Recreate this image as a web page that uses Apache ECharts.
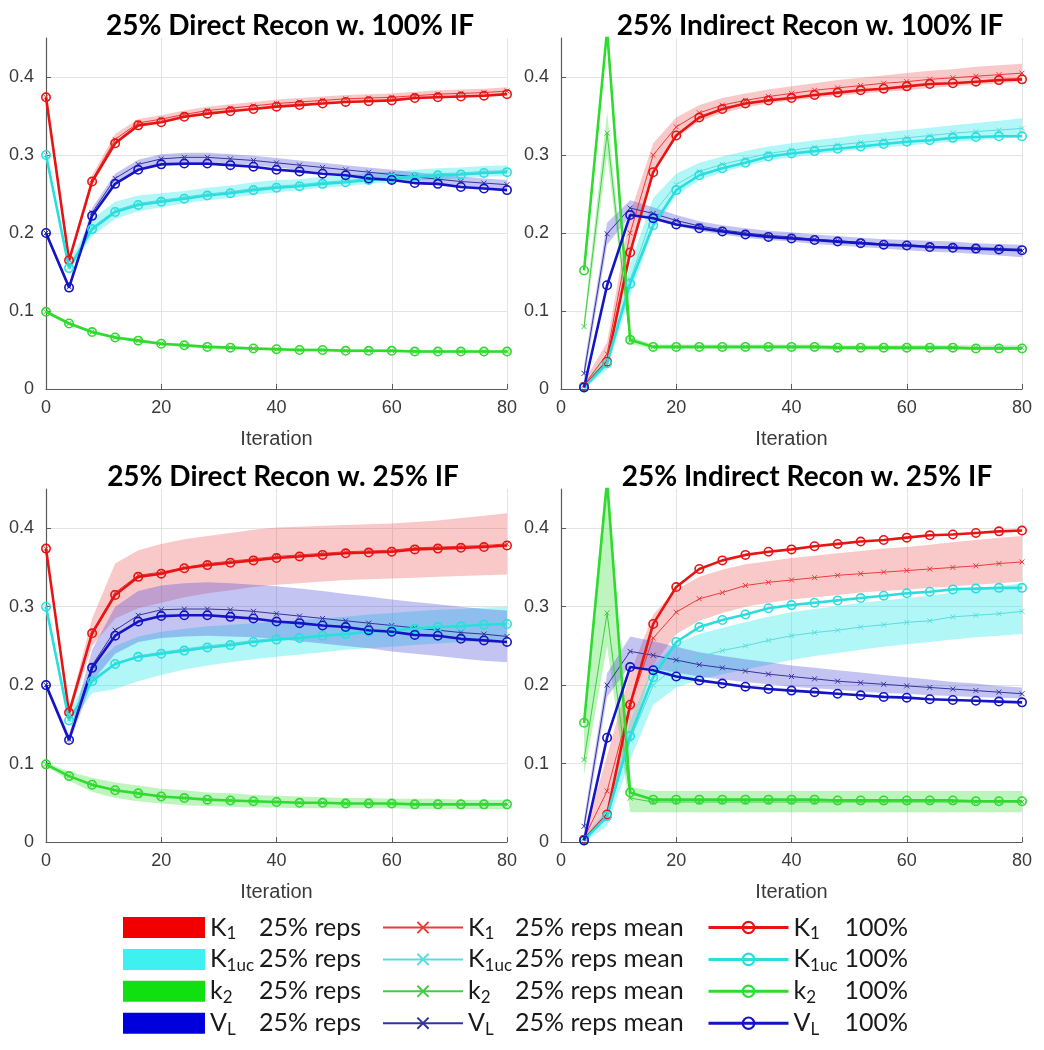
<!DOCTYPE html>
<html><head><meta charset="utf-8">
<script src="https://cdn.jsdelivr.net/npm/echarts@6/dist/echarts.min.js"></script>
<style>html,body{margin:0;padding:0;background:#fff}#c{width:1044px;height:1050px}</style>
</head><body><div id="c"></div>
<script>
// ---------- data ----------
const ITER_D = [0,4,8,12,16,20,24,28,32,36,40,44,48,52,56,60,64,68,72,76,80];
const ITER_I = [4,8,12,16,20,24,28,32,36,40,44,48,52,56,60,64,68,72,76,80];
const Y_TICKS = [0,0.1,0.2,0.3,0.4];
const TITLES = ['25% Direct Recon w. 100% IF','25% Indirect Recon w. 100% IF','25% Direct Recon w. 25% IF','25% Indirect Recon w. 25% IF'];
const PARAMS = ['K1','K1uc','k2','VL'];

// 100% reference curves
const D100_K1   = [0.374,0.165,0.266,0.315,0.338,0.342,0.349,0.353,0.356,0.359,0.362,0.364,0.366,0.368,0.369,0.370,0.373,0.374,0.375,0.376,0.378];
const D100_K1uc = [0.300,0.155,0.205,0.227,0.236,0.240,0.244,0.248,0.251,0.255,0.258,0.260,0.263,0.265,0.268,0.270,0.272,0.274,0.275,0.277,0.278];
const D100_k2   = [0.099,0.084,0.073,0.066,0.062,0.058,0.056,0.054,0.053,0.052,0.051,0.050,0.050,0.049,0.049,0.049,0.048,0.048,0.048,0.048,0.048];
const D100_VL   = [0.200,0.130,0.222,0.263,0.281,0.288,0.289,0.289,0.287,0.285,0.281,0.279,0.276,0.274,0.270,0.268,0.264,0.263,0.259,0.257,0.255];
const I100_K1   = [0.003,0.035,0.175,0.278,0.325,0.348,0.359,0.366,0.370,0.373,0.377,0.380,0.383,0.385,0.388,0.391,0.392,0.394,0.396,0.397];
const I100_K1uc = [0.002,0.033,0.135,0.210,0.255,0.274,0.283,0.290,0.298,0.302,0.305,0.308,0.311,0.314,0.317,0.319,0.322,0.323,0.324,0.324];
const I100_k2   = [0.152,0.460,0.063,0.054,0.054,0.054,0.054,0.054,0.054,0.054,0.054,0.053,0.053,0.053,0.053,0.053,0.053,0.052,0.052,0.052];
const I100_VL   = [0.002,0.133,0.223,0.219,0.211,0.206,0.202,0.198,0.195,0.193,0.191,0.189,0.187,0.185,0.184,0.182,0.181,0.180,0.179,0.178];

// Panel A: Direct, 100% IF
const A_K1_mean = [0.374,0.165,0.268,0.320,0.341,0.346,0.352,0.357,0.360,0.363,0.366,0.368,0.370,0.372,0.373,0.374,0.376,0.378,0.379,0.380,0.382];
const A_K1_lo   = [0.372,0.161,0.262,0.313,0.336,0.341,0.347,0.352,0.355,0.358,0.361,0.363,0.365,0.367,0.368,0.369,0.371,0.373,0.374,0.375,0.377];
const A_K1_hi   = [0.376,0.169,0.274,0.327,0.346,0.351,0.357,0.362,0.365,0.368,0.371,0.373,0.375,0.377,0.378,0.379,0.381,0.383,0.384,0.385,0.387];
const A_K1uc_mean = [0.300,0.156,0.207,0.229,0.238,0.242,0.246,0.250,0.253,0.257,0.260,0.262,0.265,0.267,0.270,0.272,0.274,0.276,0.277,0.279,0.280];
const A_K1uc_lo   = [0.296,0.150,0.196,0.218,0.228,0.233,0.238,0.242,0.245,0.249,0.252,0.255,0.258,0.260,0.263,0.265,0.267,0.269,0.270,0.272,0.273];
const A_K1uc_hi   = [0.304,0.162,0.218,0.240,0.248,0.251,0.254,0.258,0.261,0.265,0.268,0.269,0.272,0.274,0.277,0.279,0.281,0.283,0.284,0.286,0.287];
const A_k2_mean = [0.099,0.084,0.073,0.066,0.062,0.058,0.056,0.054,0.053,0.052,0.051,0.050,0.050,0.049,0.049,0.049,0.048,0.048,0.048,0.048,0.048];
const A_k2_lo   = [0.097,0.082,0.071,0.064,0.060,0.056,0.054,0.052,0.051,0.050,0.049,0.048,0.048,0.047,0.047,0.047,0.046,0.046,0.046,0.046,0.046];
const A_k2_hi   = [0.101,0.086,0.075,0.068,0.064,0.060,0.058,0.056,0.055,0.054,0.053,0.052,0.052,0.051,0.051,0.051,0.050,0.050,0.050,0.050,0.050];
const A_VL_mean = [0.200,0.131,0.226,0.270,0.288,0.295,0.297,0.297,0.295,0.293,0.290,0.287,0.284,0.281,0.278,0.275,0.272,0.269,0.266,0.264,0.262];
const A_VL_lo   = [0.196,0.127,0.220,0.264,0.282,0.289,0.291,0.291,0.289,0.287,0.284,0.281,0.278,0.275,0.272,0.269,0.266,0.263,0.260,0.258,0.256];
const A_VL_hi   = [0.204,0.135,0.232,0.276,0.294,0.301,0.303,0.303,0.301,0.299,0.296,0.293,0.290,0.287,0.284,0.281,0.278,0.275,0.272,0.270,0.268];

// Panel B: Indirect, 100% IF
const B_K1_mean = [0.005,0.045,0.200,0.300,0.336,0.354,0.364,0.370,0.375,0.379,0.383,0.386,0.389,0.392,0.394,0.397,0.399,0.401,0.403,0.405];
const B_K1_lo   = [0.000,0.030,0.175,0.282,0.322,0.343,0.354,0.361,0.366,0.370,0.373,0.376,0.379,0.381,0.383,0.386,0.388,0.390,0.392,0.394];
const B_K1_hi   = [0.010,0.060,0.225,0.315,0.348,0.364,0.373,0.379,0.384,0.388,0.392,0.396,0.399,0.402,0.405,0.408,0.410,0.413,0.415,0.417];
const B_K1uc_mean = [0.003,0.035,0.140,0.225,0.262,0.279,0.288,0.295,0.302,0.306,0.310,0.313,0.316,0.319,0.322,0.325,0.328,0.330,0.332,0.334];
const B_K1uc_lo   = [0.000,0.025,0.120,0.205,0.248,0.268,0.278,0.286,0.293,0.297,0.301,0.304,0.307,0.310,0.312,0.315,0.317,0.319,0.321,0.323];
const B_K1uc_hi   = [0.008,0.045,0.160,0.245,0.276,0.290,0.298,0.305,0.311,0.315,0.319,0.322,0.326,0.329,0.332,0.335,0.338,0.341,0.344,0.347];
const B_k2_mean = [0.080,0.328,0.062,0.054,0.054,0.054,0.054,0.054,0.054,0.054,0.054,0.053,0.053,0.053,0.053,0.053,0.053,0.053,0.053,0.053];
const B_k2_lo   = [0.072,0.300,0.058,0.051,0.051,0.051,0.051,0.051,0.051,0.051,0.051,0.050,0.050,0.050,0.050,0.050,0.050,0.050,0.050,0.050];
const B_k2_hi   = [0.090,0.355,0.067,0.057,0.057,0.057,0.057,0.057,0.057,0.057,0.057,0.056,0.056,0.056,0.056,0.056,0.056,0.056,0.056,0.056];
const B_VL_mean = [0.020,0.199,0.232,0.225,0.216,0.209,0.204,0.200,0.197,0.195,0.192,0.190,0.188,0.186,0.185,0.183,0.182,0.180,0.179,0.177];
const B_VL_lo   = [0.010,0.185,0.222,0.217,0.209,0.203,0.198,0.194,0.191,0.189,0.186,0.184,0.182,0.180,0.178,0.176,0.175,0.173,0.171,0.169];
const B_VL_hi   = [0.030,0.213,0.242,0.233,0.223,0.215,0.210,0.206,0.203,0.201,0.198,0.196,0.194,0.192,0.191,0.190,0.189,0.187,0.186,0.185];

// Panel C: Direct, 25% IF
const C_K1_mean = [0.374,0.165,0.268,0.318,0.340,0.344,0.350,0.355,0.358,0.361,0.364,0.366,0.368,0.370,0.371,0.372,0.375,0.376,0.377,0.378,0.380];
const C_K1_lo   = [0.370,0.160,0.250,0.285,0.298,0.305,0.312,0.317,0.321,0.325,0.328,0.330,0.332,0.334,0.335,0.336,0.337,0.338,0.339,0.340,0.341];
const C_K1_hi   = [0.378,0.170,0.285,0.355,0.372,0.380,0.386,0.390,0.394,0.398,0.401,0.402,0.403,0.404,0.405,0.406,0.408,0.410,0.413,0.416,0.419];
const C_K1uc_mean = [0.300,0.156,0.207,0.228,0.237,0.242,0.246,0.250,0.253,0.257,0.260,0.262,0.265,0.267,0.270,0.272,0.274,0.276,0.277,0.279,0.280];
const C_K1uc_lo   = [0.296,0.148,0.190,0.195,0.205,0.213,0.220,0.225,0.229,0.233,0.236,0.239,0.242,0.245,0.247,0.249,0.251,0.253,0.255,0.256,0.258];
const C_K1uc_hi   = [0.304,0.164,0.222,0.250,0.262,0.268,0.272,0.275,0.277,0.279,0.281,0.283,0.285,0.287,0.290,0.292,0.294,0.296,0.297,0.299,0.300];
const C_k2_mean = [0.099,0.084,0.073,0.066,0.062,0.058,0.056,0.054,0.053,0.052,0.051,0.050,0.050,0.049,0.049,0.049,0.048,0.048,0.048,0.048,0.048];
const C_k2_lo   = [0.097,0.078,0.064,0.056,0.052,0.049,0.047,0.046,0.045,0.044,0.044,0.043,0.043,0.043,0.043,0.043,0.042,0.042,0.042,0.042,0.042];
const C_k2_hi   = [0.101,0.090,0.082,0.076,0.072,0.068,0.066,0.063,0.062,0.060,0.059,0.058,0.057,0.056,0.056,0.055,0.055,0.055,0.054,0.054,0.054];
const C_VL_mean = [0.200,0.131,0.225,0.270,0.289,0.296,0.297,0.297,0.296,0.294,0.291,0.288,0.285,0.282,0.279,0.276,0.273,0.270,0.267,0.265,0.262];
const C_VL_lo   = [0.196,0.125,0.205,0.240,0.255,0.260,0.262,0.263,0.262,0.261,0.259,0.256,0.253,0.250,0.247,0.243,0.240,0.237,0.234,0.231,0.229];
const C_VL_hi   = [0.204,0.137,0.245,0.300,0.320,0.327,0.330,0.331,0.330,0.328,0.326,0.323,0.320,0.316,0.313,0.309,0.306,0.303,0.300,0.297,0.295];

// Panel D: Indirect, 25% IF
const D_K1_mean = [0.005,0.065,0.175,0.260,0.293,0.310,0.318,0.327,0.331,0.334,0.337,0.340,0.342,0.344,0.346,0.348,0.350,0.352,0.355,0.357];
const D_K1_lo   = [0.000,0.030,0.130,0.225,0.265,0.282,0.292,0.300,0.305,0.309,0.312,0.315,0.318,0.320,0.322,0.324,0.326,0.328,0.330,0.332];
const D_K1_hi   = [0.010,0.110,0.215,0.290,0.322,0.338,0.347,0.354,0.358,0.362,0.365,0.368,0.371,0.374,0.376,0.379,0.382,0.385,0.388,0.390];
const D_K1uc_mean = [0.003,0.030,0.130,0.200,0.225,0.236,0.244,0.250,0.257,0.263,0.267,0.270,0.274,0.277,0.280,0.282,0.287,0.289,0.291,0.294];
const D_K1uc_lo   = [0.000,0.020,0.105,0.175,0.197,0.207,0.214,0.220,0.226,0.232,0.237,0.241,0.245,0.249,0.252,0.255,0.258,0.261,0.263,0.265];
const D_K1uc_hi   = [0.008,0.042,0.155,0.225,0.253,0.265,0.273,0.280,0.287,0.293,0.297,0.301,0.305,0.308,0.311,0.314,0.318,0.322,0.326,0.330];
const D_k2_mean = [0.105,0.292,0.056,0.051,0.051,0.051,0.051,0.051,0.051,0.051,0.051,0.051,0.051,0.051,0.051,0.051,0.051,0.051,0.051,0.051];
const D_k2_lo   = [0.085,0.250,0.038,0.038,0.038,0.038,0.038,0.038,0.038,0.038,0.038,0.038,0.038,0.038,0.038,0.038,0.038,0.038,0.038,0.038];
const D_k2_hi   = [0.160,0.480,0.070,0.065,0.065,0.065,0.065,0.065,0.065,0.065,0.065,0.065,0.065,0.065,0.065,0.065,0.065,0.065,0.065,0.065];
const D_VL_mean = [0.020,0.200,0.243,0.238,0.232,0.226,0.222,0.218,0.214,0.211,0.208,0.205,0.203,0.201,0.199,0.197,0.195,0.193,0.191,0.189];
const D_VL_lo   = [0.010,0.185,0.225,0.221,0.216,0.211,0.207,0.204,0.201,0.198,0.196,0.194,0.192,0.190,0.189,0.187,0.186,0.185,0.184,0.183];
const D_VL_hi   = [0.030,0.215,0.262,0.256,0.249,0.242,0.237,0.233,0.229,0.225,0.222,0.219,0.216,0.213,0.210,0.207,0.204,0.202,0.199,0.197];

// ---------- styling ----------
const COL_LINE = {K1:'#e81414', K1uc:'#2adede', k2:'#2edb2e', VL:'#1414c4'};
const COL_MEAN = {K1:'#ee3a3a', K1uc:'#5cdcdc', k2:'#44cc44', VL:'#34349c'};
const COL_BAND = {K1:'rgba(235,60,60,0.28)', K1uc:'rgba(40,232,232,0.36)', k2:'rgba(40,220,40,0.30)', VL:'rgba(60,60,215,0.30)'};
const COL_SWATCH = {K1:'#f20000', K1uc:'#3ff0f0', k2:'#10e010', VL:'#0000dd'};
const FONT_TICK = '"Liberation Sans", Arial, sans-serif';
const FONT_TXT = 'Lato, "Open Sans", sans-serif';

const panels = [
  {x:ITER_D, ref:{K1:D100_K1,K1uc:D100_K1uc,k2:D100_k2,VL:D100_VL},
   mean:{K1:A_K1_mean,K1uc:A_K1uc_mean,k2:A_k2_mean,VL:A_VL_mean},
   lo:{K1:A_K1_lo,K1uc:A_K1uc_lo,k2:A_k2_lo,VL:A_VL_lo}, hi:{K1:A_K1_hi,K1uc:A_K1uc_hi,k2:A_k2_hi,VL:A_VL_hi}},
  {x:ITER_I, ref:{K1:I100_K1,K1uc:I100_K1uc,k2:I100_k2,VL:I100_VL},
   mean:{K1:B_K1_mean,K1uc:B_K1uc_mean,k2:B_k2_mean,VL:B_VL_mean},
   lo:{K1:B_K1_lo,K1uc:B_K1uc_lo,k2:B_k2_lo,VL:B_VL_lo}, hi:{K1:B_K1_hi,K1uc:B_K1uc_hi,k2:B_k2_hi,VL:B_VL_hi}},
  {x:ITER_D, ref:{K1:D100_K1,K1uc:D100_K1uc,k2:D100_k2,VL:D100_VL},
   mean:{K1:C_K1_mean,K1uc:C_K1uc_mean,k2:C_k2_mean,VL:C_VL_mean},
   lo:{K1:C_K1_lo,K1uc:C_K1uc_lo,k2:C_k2_lo,VL:C_VL_lo}, hi:{K1:C_K1_hi,K1uc:C_K1uc_hi,k2:C_k2_hi,VL:C_VL_hi}},
  {x:ITER_I, ref:{K1:I100_K1,K1uc:I100_K1uc,k2:I100_k2,VL:I100_VL},
   mean:{K1:D_K1_mean,K1uc:D_K1uc_mean,k2:D_k2_mean,VL:D_VL_mean},
   lo:{K1:D_K1_lo,K1uc:D_K1uc_lo,k2:D_k2_lo,VL:D_VL_lo}, hi:{K1:D_K1_hi,K1uc:D_K1uc_hi,k2:D_k2_hi,VL:D_VL_hi}}
];

const gridBoxes = [
  {left:46, top:38, width:461, height:351},
  {left:561, top:38, width:461, height:351},
  {left:46, top:489, width:461, height:353},
  {left:561, top:489, width:461, height:353}
];
const titlePos = [{left:290, top:10},{left:810, top:10},{left:283, top:461},{left:807, top:461}];

const AX = '#5a5a5a';
const GRIDC = '#e3e3e3';

const xAxes = [], yAxes = [], titles = [], series = [];
gridBoxes.forEach((g, i) => {
  xAxes.push({type:'value', gridIndex:i, min:0, max:80, interval:20,
    name:'Iteration', nameLocation:'middle', nameGap:40,
    nameTextStyle:{fontFamily:FONT_TICK, fontSize:20, color:'#3a3a3a'},
    axisLine:{show:true, lineStyle:{color:AX, width:1.2}},
    axisTick:{show:true, inside:true, length:5, lineStyle:{color:AX}},
    axisLabel:{fontFamily:FONT_TICK, fontSize:18, color:'#3a3a3a', margin:10},
    splitLine:{show:true, lineStyle:{color:GRIDC, width:1}}});
  yAxes.push({type:'value', gridIndex:i, min:0, max:0.45, interval:0.1,
    axisLine:{show:true, onZero:false, lineStyle:{color:AX, width:1.2}},
    axisTick:{show:true, inside:true, length:5, lineStyle:{color:AX}},
    axisLabel:{fontFamily:FONT_TICK, fontSize:18, color:'#3a3a3a', margin:12, showMaxLabel:false},
    splitLine:{show:true, lineStyle:{color:[GRIDC,GRIDC,GRIDC,GRIDC,GRIDC,'rgba(0,0,0,0)'], width:1}}});
  titles.push({text:TITLES[i], left:titlePos[i].left, top:titlePos[i].top, textAlign:'center', padding:0,
    textStyle:{fontFamily:FONT_TXT, fontWeight:'bold', fontSize:28, color:'#000', lineHeight:32}});
});

const RING = 'path://M0,-10A10,10 0 1,1 0,10A10,10 0 1,1 0,-10ZM0,-6.8A6.8,6.8 0 1,0 0,6.8A6.8,6.8 0 1,0 0,-6.8Z';
const XMARK = 'path://M0,0L10,10M0,10L10,0';

panels.forEach((p, gi) => {
  PARAMS.forEach(k => {
    const xs = p.x, lo = p.lo[k], hi = p.hi[k];
    series.push({
      type:'custom', name:k+' reps', xAxisIndex:gi, yAxisIndex:gi, z:1, silent:true,
      data: xs.map((x, j) => [x, lo[j], hi[j]]),
      encode:{x:0, y:[1,2]},
      itemStyle:{color:COL_SWATCH[k]},
      renderItem: function (params, api) {
        if (params.dataIndex !== 0) return null;
        const pts = [];
        for (let j = 0; j < xs.length; j++) pts.push(api.coord([xs[j], hi[j]]));
        for (let j = xs.length - 1; j >= 0; j--) pts.push(api.coord([xs[j], lo[j]]));
        const cs = params.coordSys;
        return {type:'group', children:[{type:'polygon', shape:{points:pts}, style:{fill:COL_BAND[k], stroke:null}}],
          clipPath:{type:'rect', shape:{x:cs.x, y:cs.y, width:cs.width, height:cs.height}}};
      }
    });
  });
  PARAMS.forEach(k => {
    series.push({type:'line', name:k+' mean', xAxisIndex:gi, yAxisIndex:gi, z:2, silent:true,
      data:p.x.map((x, j) => [x, p.mean[k][j]]),
      symbol:XMARK, symbolSize:5, showAllSymbol:true,
      lineStyle:{width:1, color:COL_MEAN[k]},
      itemStyle:{color:COL_MEAN[k], borderColor:COL_MEAN[k], borderWidth:1}});
  });
  PARAMS.forEach(k => {
    series.push({type:'line', name:k+' 100%', xAxisIndex:gi, yAxisIndex:gi, z:3, silent:true,
      data:p.x.map((x, j) => [x, p.ref[k][j]]),
      symbol:RING, symbolSize:10, showAllSymbol:true,
      lineStyle:{width:2.6, color:COL_LINE[k]},
      itemStyle:{color:COL_LINE[k]}});
  });
});

// ---------- legend (rich text with subscripts) ----------
const NAME_PARTS = {K1:['K','1'], K1uc:['K','1uc'], k2:['k','2'], VL:['V','L']};
const cv = document.createElement('canvas').getContext('2d');
function tw(t, size) { cv.font = size + 'px ' + FONT_TXT; return cv.measureText(t).width; }
function makeLegend(suffix, nameW, left, top, dataItems, itemW, itemH) {
  const rich = {
    m:{fontFamily:FONT_TXT, fontSize:25, color:'#1a1a1a', verticalAlign:'bottom'},
    t:{fontFamily:FONT_TXT, fontSize:25, color:'#1a1a1a', verticalAlign:'bottom'}
  };
  PARAMS.forEach(k => {
    const [m, s] = NAME_PARTS[k];
    const w = Math.max(nameW - tw(m, 25), tw(s, 17) + 3);
    rich['s' + k] = {fontFamily:FONT_TXT, fontSize:17, height:12, verticalAlign:'bottom', color:'#1a1a1a', width:w, align:'left'};
  });
  return {
    orient:'vertical', left:left, top:top, padding:0, height:130,
    itemWidth:itemW, itemHeight:itemH, itemGap:4.4,
    selectedMode:false, data:dataItems,
    textStyle:{fontFamily:FONT_TXT, fontSize:25, color:'#1a1a1a', rich:rich},
    formatter: function (name) {
      const k = name.split(' ')[0];
      const [m, s] = NAME_PARTS[k];
      return '{m|' + m + '}{s' + k + '|' + s + '}{t|' + suffix + '}';
    }
  };
}
const legends = [
  makeLegend('25% reps', 49, 123, 915,
    PARAMS.map(k => ({name:k + ' reps', icon:'rect', itemStyle:{color:COL_SWATCH[k]}})), 82, 21),
  makeLegend('25% reps mean', 47, 382, 915,
    PARAMS.map(k => ({name:k + ' mean'})), 80, 14),
  makeLegend('100%', 51, 707, 915,
    PARAMS.map(k => ({name:k + ' 100%', lineStyle:{width:3}})), 80, 17)
];

const chart = echarts.init(document.getElementById('c'), null, {renderer:'canvas'});
chart.setOption({
  backgroundColor:'#ffffff',
  animation:false,
  title:titles,
  grid:gridBoxes,
  xAxis:xAxes,
  yAxis:yAxes,
  legend:legends,
  series:series
});
</script></body></html>
